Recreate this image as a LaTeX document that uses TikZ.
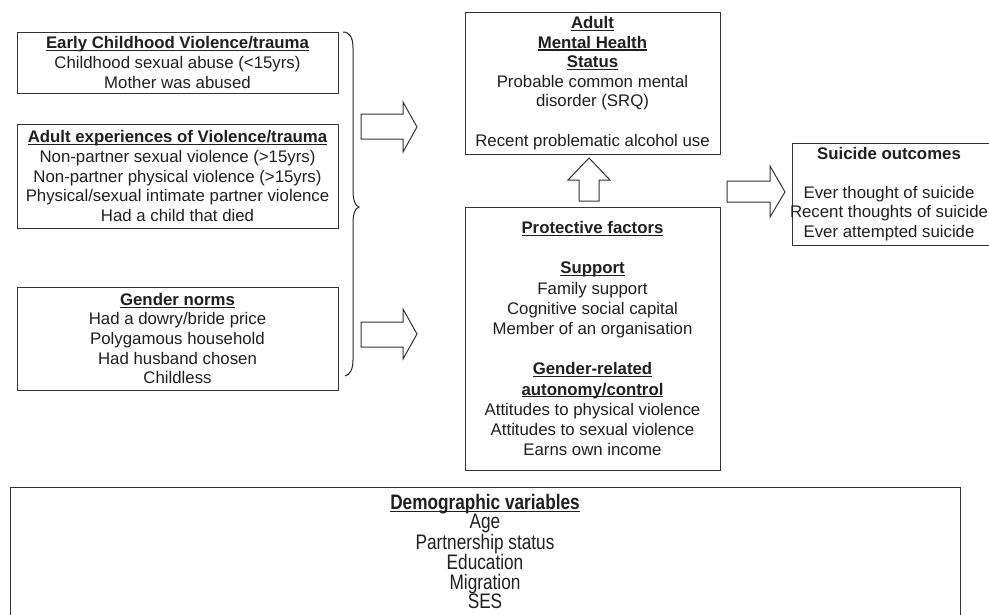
\documentclass[tikz,border=0pt]{standalone}
\usepackage{fontspec}
\setmainfont{Liberation Sans}
\newfontfamily\narrowfont[FakeStretch=0.82]{Liberation Sans}
\newcommand\ulbf[1]{\setbox0\hbox{\bfseries #1}\rlap{\rule[-2.4pt]{\wd0}{1.1pt}}\box0}
\begin{document}
\begin{tikzpicture}[x=1pt,y=-1pt,
  box/.style={draw=black!80, line width=1pt, inner sep=0pt, align=center, text=black!88},
  txt/.style={font=\fontsize{16.8}{19.6}\selectfont},
  ptxt/.style={font=\fontsize{16.8}{20.2}\selectfont},
  dtxt/.style={font=\narrowfont\fontsize{21}{19.3}\selectfont},
  blk/.style={draw=black!80, line width=1pt, fill=white, line join=miter},
  brace/.style={draw=black!85, line width=1pt}]
\useasboundingbox (0,0) rectangle (989,614);

% left column
\node[box, txt, minimum width=321, minimum height=61] (early) at (177.5,62.5)
  {\ulbf{Early Childhood Violence/trauma}\\Childhood sexual abuse (<15yrs)\\Mother was abused};
\node[box, txt, minimum width=321, minimum height=104] (adult) at (177.5,176)
  {\ulbf{Adult experiences of Violence/trauma}\\Non-partner sexual violence (>15yrs)\\Non-partner physical violence (>15yrs)\\Physical/sexual intimate partner violence\\Had a child that died};
\node[box, txt, minimum width=321, minimum height=103] (gender) at (177.5,338.5)
  {\ulbf{Gender norms}\\Had a dowry/bride price\\Polygamous household\\Had husband chosen\\Childless};

% middle column
\node[box, txt, minimum width=255, minimum height=142] (amh) at (592.5,83)
  {\ulbf{Adult}\\\ulbf{Mental Health}\\\ulbf{Status}\\Probable common mental\\disorder (SRQ)\\[19.6pt]Recent problematic alcohol use};
\node[box, ptxt, minimum width=255, minimum height=263] (prot) at (592.5,338.5)
  {\ulbf{Protective factors}\\[20.2pt]\ulbf{Support}\\Family support\\Cognitive social capital\\Member of an organisation\\[20.2pt]\ulbf{Gender-related}\\\ulbf{autonomy/control}\\Attitudes to physical violence\\Attitudes to sexual violence\\Earns own income};

% right
\node[box, minimum width=206, minimum height=102] (suic) at (895,194) {};
\node[txt, align=center, inner sep=0pt, text=black!88] (suictext) at (889,194)
  {\textbf{Suicide outcomes}\\[19.2pt]Ever thought of suicide\\Recent thoughts of suicide\\Ever attempted suicide};

% bottom
\node[box, minimum width=950, minimum height=150] (demo) at (485,562) {};
\node[dtxt, align=center, inner sep=0pt, text=black!88] (demotext) at (485,551.5)
  {\ulbf{Demographic variables}\\Age\\Partnership status\\Education\\Migration\\SES};

% brace
\draw[brace] (343,32) .. controls (350,32) and (353,38) .. (353,48) -- (353,190)
  .. controls (353,200) and (355,206) .. (359,207)
  .. controls (355,208) and (353,214) .. (353,224) -- (353,360)
  .. controls (353,369) and (350,375) .. (345,376);

% block arrows
\draw[blk] (361,114) -- (403,114) -- (403,102) -- (417,127) -- (403,152) -- (403,139) -- (361,139) -- cycle;
\draw[blk] (361,322) -- (403,322) -- (403,309) -- (417,334) -- (403,359) -- (403,347) -- (361,347) -- cycle;
\draw[blk] (727,181) -- (770,181) -- (770,166) -- (785,192) -- (770,217) -- (770,202) -- (727,202) -- cycle;
\draw[blk] (579,201) -- (579,180) -- (568,180) -- (589,158) -- (610,180) -- (599,180) -- (599,201) -- cycle;
\end{tikzpicture}
\end{document}
